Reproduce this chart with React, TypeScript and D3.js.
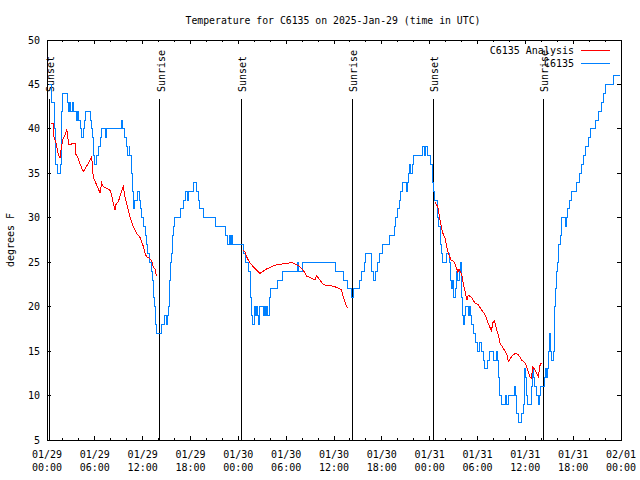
import React from 'react';
import * as d3 from 'd3';

const title = 'Temperature for C6135 on 2025-Jan-29 (time in UTC)';
const yAxisLabel = 'degrees F';
const analysisName = 'C6135 Analysis';
const stationName = 'C6135';
const startUtc = Date.UTC(2025, 0, 29, 0, 0);

const yTicks = [5, 10, 15, 20, 25, 30, 35, 40, 45, 50];
const xMajorHours = [0, 6, 12, 18, 24, 30, 36, 42, 48, 54, 60, 66, 72];
const xMinorHours = [2, 4, 8, 10, 14, 16, 20, 22, 26, 28, 32, 34, 38, 40, 44, 46, 50, 52, 56, 58, 62, 64, 68, 70];

const eventHours = [0.31, 14.17, 24.37, 38.29, 48.46, 62.26];
const eventLabels = ['Sunset', 'Sunrise', 'Sunset', 'Sunrise', 'Sunset', 'Sunrise'];

// Station observations: [hour since 01/29 00:00 UTC, °F]
const stationObs: [number, number][] = [
  [0.3, 45], [0.55, 44], [0.62, 43], [0.95, 42], [1.0, 40], [1.05, 38], [1.12, 36], [1.3, 35],
  [1.71, 36], [1.76, 39], [1.82, 42], [1.9, 44], [2.55, 43], [2.72, 42], [2.88, 43], [3.0, 42],
  [3.18, 43], [3.3, 42], [3.64, 41], [3.8, 42], [3.9, 41], [4.14, 40], [4.3, 39], [4.55, 40],
  [4.68, 41], [4.85, 42], [5.48, 41], [5.6, 40], [5.75, 39], [5.85, 37], [5.95, 36], [6.25, 37],
  [6.45, 38], [6.75, 39], [6.85, 40], [7.3, 39], [7.42, 40], [9.3, 41], [9.45, 40], [9.7, 39],
  [9.95, 38], [10.1, 37], [10.3, 38], [10.4, 37], [10.55, 35], [10.7, 33], [10.8, 31], [11.0, 32],
  [11.4, 33], [11.6, 32], [11.7, 31], [11.8, 30], [12.1, 29], [12.3, 28], [12.5, 27], [12.65, 26],
  [12.85, 25], [13.05, 24], [13.2, 23], [13.3, 22], [13.4, 21], [13.48, 20], [13.55, 19], [13.63, 18],
  [13.72, 17], [14.3, 18], [14.75, 19], [14.95, 18], [15.1, 19], [15.25, 20], [15.32, 22], [15.4, 23],
  [15.5, 25], [15.6, 26], [15.72, 28], [15.85, 29], [16.0, 30], [16.8, 31], [17.1, 32], [17.4, 33],
  [17.58, 32], [17.78, 33], [18.35, 34], [18.7, 33], [18.95, 32], [19.1, 31], [19.6, 30], [21.1, 29],
  [22.45, 28], [22.7, 27], [22.85, 28], [23.0, 27], [23.15, 28], [23.3, 27], [24.65, 26], [24.9, 25],
  [25.3, 24], [25.5, 23], [25.58, 21], [25.68, 19], [25.8, 18], [26.0, 20], [26.12, 19], [26.25, 20],
  [26.38, 19], [26.5, 18], [26.7, 20], [27.1, 19], [27.25, 20], [27.4, 19], [27.55, 20], [27.7, 19],
  [27.88, 21], [28.05, 22], [28.95, 23], [29.55, 24], [31.45, 25], [31.6, 24], [32.05, 25], [36.2, 24],
  [37.25, 23], [37.7, 22], [38.25, 21], [38.45, 22], [39.25, 23], [39.5, 24], [39.8, 25], [40.0, 26],
  [40.65, 25], [40.75, 24], [40.9, 23], [41.25, 24], [41.45, 25], [41.65, 26], [42.1, 27], [42.9, 28],
  [43.55, 29], [43.75, 30], [43.95, 31], [44.2, 32], [44.4, 33], [44.6, 34], [45.05, 33], [45.2, 34],
  [45.35, 35], [45.5, 36], [45.65, 35], [45.8, 36], [46.0, 37], [47.1, 38], [47.3, 37], [47.5, 38],
  [47.75, 37], [48.15, 36], [48.3, 35], [48.4, 34], [48.5, 33], [48.6, 32], [48.97, 30], [49.09, 29],
  [49.3, 27], [49.45, 26], [49.6, 25], [50.14, 26], [50.45, 25], [50.66, 23], [50.76, 22], [50.85, 23],
  [50.97, 21], [51.3, 22], [51.42, 24], [51.55, 23], [51.7, 24], [51.82, 25], [51.94, 24], [52.02, 21],
  [52.14, 19], [52.27, 18], [52.35, 19], [52.44, 20], [52.85, 19], [52.98, 20], [53.11, 19], [53.27, 18],
  [53.45, 17], [53.75, 16], [54.05, 15], [54.2, 16], [54.55, 15], [54.7, 14], [54.85, 13], [55.3, 14],
  [55.45, 15], [55.95, 14], [56.35, 15], [56.55, 14], [56.68, 12], [56.8, 10], [57.0, 9], [57.55, 10],
  [57.68, 9], [57.85, 10], [58.6, 11], [58.75, 10], [58.9, 8], [59.15, 7], [59.55, 8], [59.72, 9],
  [59.9, 13], [60.05, 12], [60.15, 10], [60.28, 9], [60.75, 11], [60.9, 13], [61.02, 12], [61.2, 11],
  [61.4, 10], [61.6, 9], [61.75, 10], [61.85, 11], [62.35, 12], [62.5, 13], [62.62, 12], [62.78, 13],
  [62.88, 15], [62.98, 17], [63.1, 15], [63.3, 14], [63.5, 15], [63.6, 18], [63.7, 20], [63.82, 22],
  [63.92, 24], [64.05, 25], [64.22, 27], [64.4, 28], [64.55, 30], [65.03, 29], [65.15, 30], [65.3, 31],
  [65.5, 32], [65.75, 33], [66.4, 34], [66.8, 35], [67.05, 36], [67.25, 37], [67.55, 38], [67.88, 39],
  [68.2, 40], [68.8, 41], [69.15, 42], [69.55, 43], [69.8, 44], [70.0, 45], [71.0, 46], [71.9, 46],
];

// Analysis, three separate runs
const analysisRun1: [number, number][] = [
  [0.5, 40.6], [0.79, 40.6], [0.88, 39.1], [1.13, 38.4], [1.42, 37.1], [1.63, 36.7], [1.76, 37.6],
  [1.96, 38.75], [2.26, 39.3], [2.47, 39.9], [2.59, 39.5], [2.68, 38.2], [2.88, 38.2], [3.3, 38.4],
  [3.51, 38.4], [3.64, 37.1], [3.8, 36.9], [4.05, 36.3], [4.35, 35.6], [4.56, 35.2], [4.97, 35.8],
  [5.39, 36.5], [5.6, 36.9], [5.73, 35.4], [5.81, 34.5], [6.02, 34.1], [6.23, 33.7], [6.44, 33.3],
  [6.65, 32.75], [6.86, 33.9], [7.06, 33.5], [7.48, 33.3], [7.9, 33.1], [8.11, 32.6], [8.32, 31.6],
  [8.53, 30.9], [8.65, 31.5], [8.95, 31.8], [9.36, 33.0], [9.57, 33.5], [9.78, 32.4], [9.99, 31.6],
  [10.41, 30.1], [10.83, 29.0], [11.25, 28.2], [11.66, 27.8], [12.08, 26.8], [12.29, 26.0], [12.5, 25.6],
  [12.92, 25.4], [13.13, 25.1], [13.34, 24.5], [13.55, 24.2], [13.76, 23.4],
];
const analysisRun2: [number, number][] = [
  [24.62, 26.3], [24.83, 26.2], [25.04, 25.6], [25.25, 25.25], [25.46, 24.9], [25.88, 24.5], [26.29, 24.1],
  [26.71, 23.75], [27.13, 24.0], [27.55, 24.24], [27.97, 24.4], [28.38, 24.6], [28.8, 24.7], [29.43, 24.8],
  [30.27, 24.9], [30.68, 25.0], [31.1, 24.8], [31.73, 24.5], [32.15, 24.1], [32.56, 23.45], [32.98, 23.3],
  [33.4, 23.1], [33.61, 23.0], [33.82, 23.5], [34.24, 23.0], [34.65, 22.5], [35.07, 22.4], [35.91, 22.3],
  [36.54, 22.1], [36.95, 21.9], [37.16, 21.1], [37.37, 20.56], [37.58, 20.0], [37.79, 19.9],
];
const analysisRun3: [number, number][] = [
  [48.67, 31.7], [49.01, 31.25], [49.3, 29.75], [49.59, 28.4], [49.93, 27.7], [50.18, 26.6], [50.35, 26.0],
  [50.68, 25.25], [51.02, 25.1], [51.39, 24.3], [51.52, 23.9], [51.68, 24.2], [51.85, 23.9], [52.02, 23.6],
  [52.27, 22.4], [52.44, 21.7], [52.69, 20.75], [52.85, 21.3], [53.27, 21.0], [53.69, 20.4], [54.11, 20.2],
  [54.53, 19.6], [54.94, 19.1], [55.36, 18.1], [55.78, 17.2], [55.86, 18.1], [56.12, 18.4], [56.41, 17.4],
  [56.62, 16.8], [56.83, 15.9], [57.24, 15.3], [57.66, 14.7], [57.87, 13.8], [58.29, 14.4], [58.71, 14.75],
  [59.13, 14.6], [59.54, 14.0], [59.96, 13.7], [60.17, 13.25], [60.59, 12.1], [60.8, 11.9], [60.88, 13.25],
  [61.22, 12.9], [61.63, 12.1], [61.88, 13.6], [62.05, 13.6],
];

const FONT = '"DejaVu Sans Mono", "Liberation Mono", monospace';
const RED = '#ff0000';
const BLUE = '#0080ff';

export default function App() {
  const W = 640, H = 480;
  const L = 47, R = 621, T = 40, B = 440;
  const x = d3.scaleLinear().domain([0, 72]).range([L, R]);
  const y = d3.scaleLinear().domain([5, 50]).range([B, T]);
  const fmtDate = d3.utcFormat('%m/%d');
  const fmtTime = d3.utcFormat('%H:%M');
  const toDate = (h: number) => new Date(startUtc + h * 3600e3);

  const stepLine = d3.line<[number, number]>().x(d => x(d[0])).y(d => y(d[1])).curve(d3.curveStepAfter);
  const straightLine = d3.line<[number, number]>().x(d => x(d[0])).y(d => y(d[1]));

  return (
    <svg width={W} height={H} style={{ position: 'fixed', left: 0, top: 0, background: '#fff' }}
      fontFamily={FONT} fontSize={10} shapeRendering="crispEdges">
      <rect x={0} y={0} width={W} height={H} fill="#fff" />
      <text x={(L + R) / 2 - 1} y={24} textAnchor="middle" fontSize={9.8}>{title}</text>
      <text transform={`translate(14,${(T + B) / 2}) rotate(-90)`} textAnchor="middle">{yAxisLabel}</text>

      {/* y ticks */}
      {yTicks.map(v => (
        <g key={'y' + v}>
          <line x1={L} x2={L + 4} y1={y(v)} y2={y(v)} stroke="#000" />
          <line x1={R - 4} x2={R} y1={y(v)} y2={y(v)} stroke="#000" />
          <text x={40} y={y(v) + 3.5} textAnchor="end">{v}</text>
        </g>
      ))}
      {/* x ticks */}
      {xMajorHours.map(h => (
        <g key={'x' + h}>
          <line x1={x(h)} x2={x(h)} y1={B} y2={B - 4} stroke="#000" />
          <line x1={x(h)} x2={x(h)} y1={T} y2={T + 4} stroke="#000" />
          <text x={x(h)} y={457.5} textAnchor="middle">{fmtDate(toDate(h))}</text>
          <text x={x(h)} y={471} textAnchor="middle">{fmtTime(toDate(h))}</text>
        </g>
      ))}
      {xMinorHours.map(h => (
        <g key={'m' + h}>
          <line x1={x(h)} x2={x(h)} y1={B} y2={B - 2} stroke="#000" />
          <line x1={x(h)} x2={x(h)} y1={T} y2={T + 2} stroke="#000" />
        </g>
      ))}

      {/* sunrise / sunset */}
      {eventHours.map((h, i) => (
        <g key={'e' + i}>
          <line x1={x(h)} x2={x(h)} y1={99} y2={B} stroke="#000" />
          <text transform={`translate(${x(h) + 5},92) rotate(-90)`} textAnchor="start">{eventLabels[i]}</text>
        </g>
      ))}

      {/* data */}
      <path d={stepLine(stationObs) || ''} fill="none" stroke={BLUE} strokeWidth={1} />
      {[analysisRun1, analysisRun2, analysisRun3].map((run, i) => (
        <path key={'a' + i} d={straightLine(run) || ''} fill="none" stroke={RED} strokeWidth={1} />
      ))}

      {/* legend */}
      <text x={574} y={53.5} textAnchor="end">{analysisName}</text>
      <line x1={581} x2={610} y1={50} y2={50} stroke={RED} />
      <text x={574} y={66.5} textAnchor="end">{stationName}</text>
      <line x1={581} x2={610} y1={63} y2={63} stroke={BLUE} />

      <rect x={L} y={T} width={R - L} height={B - T} fill="none" stroke="#000" />
    </svg>
  );
}
